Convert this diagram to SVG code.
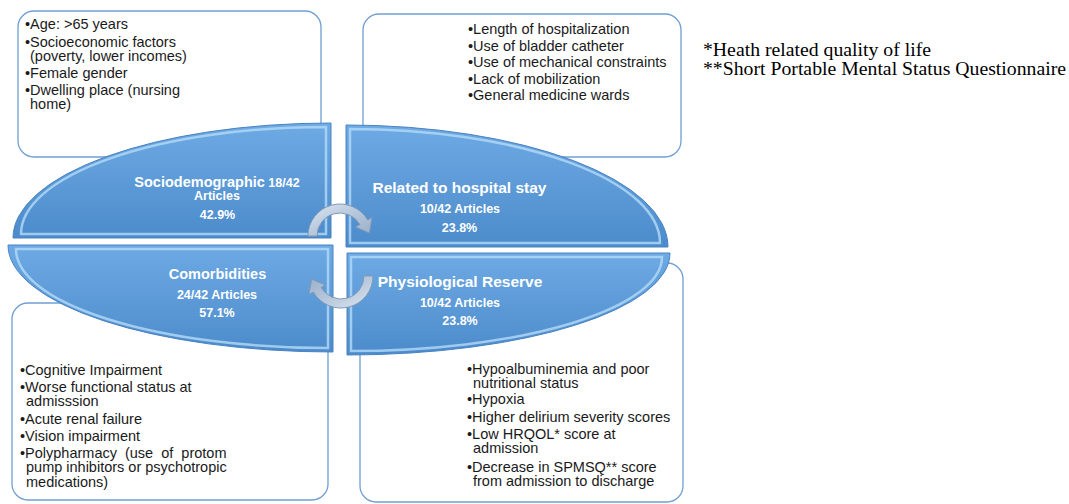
<svg xmlns="http://www.w3.org/2000/svg" width="1069" height="504" viewBox="0 0 1069 504">
<defs>
<linearGradient id="gBlue" x1="0" y1="0" x2="0" y2="1">
<stop offset="0" stop-color="#6eaae4"/>
<stop offset="1" stop-color="#4c8bcb"/>
</linearGradient>
<linearGradient id="gArrow" x1="0" y1="0" x2="1" y2="1">
<stop offset="0" stop-color="#dbe5f0"/>
<stop offset="0.5" stop-color="#b7c8dc"/>
<stop offset="1" stop-color="#98aec9"/>
</linearGradient>
<style>
.box{fill:#ffffff;stroke:#6f9fd3;stroke-width:1.3}
.shape{fill:url(#gBlue);stroke:#4a83c2;stroke-width:1}
.bevel{fill:none;stroke:#b3dbf8;stroke-width:2.5;stroke-opacity:0.8}
.t{font-family:"Liberation Sans",Arial,sans-serif;font-size:14.5px;fill:#1a1a1a}
.h{font-family:"Liberation Sans",Arial,sans-serif;font-weight:bold;fill:#ffffff;text-anchor:middle}
.h1{font-size:14.5px}
.h2{font-size:15.5px}
.s{font-size:12.5px}
.fn{font-family:"Liberation Serif","Times New Roman",serif;font-size:18px;fill:#000000}
.arrow{fill:url(#gArrow);stroke:#8199b8;stroke-width:1}
</style>
</defs>
<rect width="1069" height="504" fill="#ffffff"/>

<g id="box-sociodemographic">
<rect class="box" x="18" y="11" width="303" height="146" rx="16"/>
<text class="t" x="25" y="29">•Age: &gt;65 years</text>
<text class="t" x="25" y="47">•Socioeconomic factors</text>
<text class="t" x="30" y="61">(poverty, lower incomes)</text>
<text class="t" x="25" y="78">•Female gender</text>
<text class="t" x="25" y="95">•Dwelling place (nursing</text>
<text class="t" x="30" y="109">home)</text>
</g>

<g id="box-hospital-stay">
<rect class="box" x="363" y="14" width="318" height="143" rx="16"/>
<text class="t" x="468" y="34">•Length of hospitalization</text>
<text class="t" x="468" y="51">•Use of bladder catheter</text>
<text class="t" x="468" y="67">•Use of mechanical constraints</text>
<text class="t" x="468" y="84">•Lack of mobilization</text>
<text class="t" x="468" y="100">•General medicine wards</text>
</g>

<g id="box-comorbidities">
<rect class="box" x="12" y="303" width="316" height="197" rx="16"/>
<text class="t" x="20" y="375">•Cognitive Impairment</text>
<text class="t" x="20" y="392">•Worse functional status at</text>
<text class="t" x="26" y="406">admisssion</text>
<text class="t" x="20" y="424">•Acute renal failure</text>
<text class="t" x="20" y="441">•Vision impairment</text>
<text class="t" x="20" y="458" word-spacing="4">•Polypharmacy (use of protom</text>
<text class="t" x="26" y="472">pump inhibitors or psychotropic</text>
<text class="t" x="26" y="487">medications)</text>
</g>

<g id="box-physiological-reserve">
<rect class="box" x="360" y="263" width="323" height="239" rx="16"/>
<text class="t" x="467" y="373.5">•Hypoalbuminemia  and poor</text>
<text class="t" x="473" y="387.5">nutritional  status</text>
<text class="t" x="467" y="404">•Hypoxia</text>
<text class="t" x="467" y="422">•Higher delirium  severity scores</text>
<text class="t" x="467" y="439">•Low HRQOL* score at</text>
<text class="t" x="473" y="453">admission</text>
<text class="t" x="467" y="472">•Decrease in SPMSQ** score</text>
<text class="t" x="473" y="486">from admission to discharge</text>
</g>

<g id="node-sociodemographic">
<path class="shape" d="M331 238 L13 238 A318 115 0 0 1 331 123 Z"/>
<path class="bevel" d="M326 234 L21 234 A305 107 0 0 1 326 127 Z"/>
<text class="h" x="217" y="187"><tspan class="h1">Sociodemographic</tspan><tspan class="s"> 18/42</tspan></text>
<text class="h s" x="217" y="200">Articles</text>
<text class="h s" x="217.5" y="219">42.9%</text>
</g>

<g id="node-hospital-stay">
<path class="shape" d="M346 247 L346 125 A322 122 0 0 1 668 247 Z"/>
<path class="bevel" d="M350 243 L350 129 A310 114 0 0 1 660 243 Z"/>
<text class="h h2" x="459.5" y="193">Related to hospital stay</text>
<text class="h s" x="460" y="213">10/42 Articles</text>
<text class="h s" x="459.5" y="232">23.8%</text>
</g>

<g id="node-comorbidities">
<path class="shape" d="M333 245 L8 245 A325 107 0 0 0 333 352 Z"/>
<path class="bevel" d="M328 249 L16 249 A312 99 0 0 0 328 348 Z"/>
<text class="h h1" x="217.5" y="279">Comorbidities</text>
<text class="h s" x="217" y="299">24/42 Articles</text>
<text class="h s" x="217" y="317">57.1%</text>
</g>

<g id="node-physiological-reserve">
<path class="shape" d="M347 253 L670 253 A323 102 0 0 1 347 355 Z"/>
<path class="bevel" d="M351 257 L662 257 A311 94 0 0 1 351 351 Z"/>
<text class="h h2" x="460" y="287">Physiological Reserve</text>
<text class="h s" x="460" y="307">10/42 Articles</text>
<text class="h s" x="460" y="325">23.8%</text>
</g>

<g id="connectors">
<path id="arrow-top" class="arrow" d="M308 236 A32 32 0 0 1 367.7 220 L372 217.5 L369.4 233 L355.6 227 L359.9 224.5 A23 23 0 0 0 317 236 Z"/>
<path id="arrow-bottom" class="arrow" transform="rotate(180 340.5 256)" d="M308 236 A32 32 0 0 1 367.7 220 L372 217.5 L369.4 233 L355.6 227 L359.9 224.5 A23 23 0 0 0 317 236 Z"/>
</g>

<g id="footnotes">
<text class="fn" x="703" y="56" textLength="228" lengthAdjust="spacingAndGlyphs">*Heath related quality of life</text>
<text class="fn" x="703" y="74.5" textLength="363" lengthAdjust="spacingAndGlyphs">**Short Portable Mental Status Questionnaire</text>
</g>
</svg>
